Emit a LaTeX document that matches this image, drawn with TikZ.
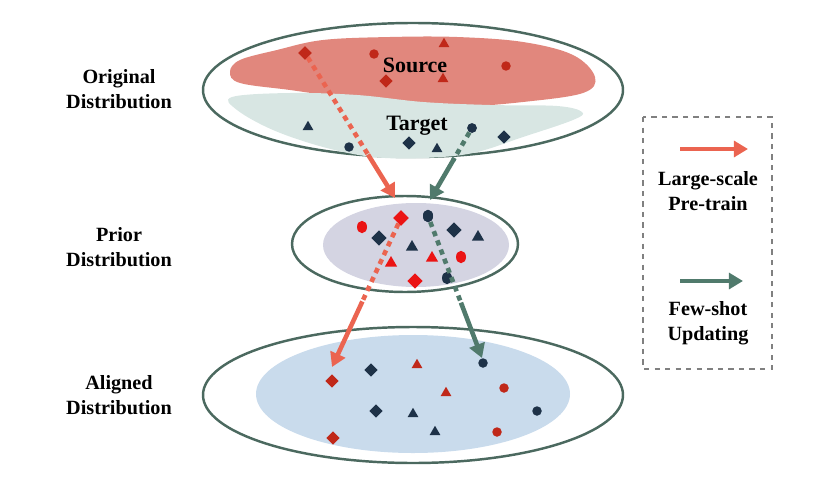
\documentclass[tikz,border=0pt]{standalone}
\usepackage{fontspec}
\setmainfont{Liberation Serif}
\usepackage{tikz}
\definecolor{srcfill}{RGB}{225,135,125}
\definecolor{tgtfill}{RGB}{216,230,227}
\definecolor{priorfill}{RGB}{212,212,226}
\definecolor{alignfill}{RGB}{201,219,236}
\definecolor{ringcol}{RGB}{75,105,95}
\definecolor{darkred}{RGB}{192,40,25}
\definecolor{brightred}{RGB}{235,20,20}
\definecolor{navy}{RGB}{30,50,72}
\definecolor{arrred}{RGB}{235,100,80}
\definecolor{arrgreen}{RGB}{80,122,108}
\usetikzlibrary{
  arrows.meta,
  positioning,
  shapes.geometric,
  calc
}

\begin{document}
\begin{tikzpicture}[x=0.02cm, y=-0.02cm,
  lbl/.style={font=\fontsize{11.5}{14}\selectfont\bfseries, align=center},
  ring/.style={draw=ringcol, line width=1.4pt},
  dia/.style={diamond, inner sep=0pt, minimum size=0.27cm},
  dot/.style={circle, inner sep=0pt, minimum size=0.19cm},
  tri/.style={regular polygon, regular polygon sides=3, inner sep=0pt, minimum size=0.25cm},
  bigdia/.style={dia, minimum size=0.31cm},
  bigtri/.style={tri, minimum size=0.28cm},
  oval/.style={ellipse, inner sep=0pt, minimum width=0.2cm, minimum height=0.25cm},
  dashred/.style={arrred, line width=2.6pt, dash pattern=on 3pt off 2.6pt},
  dashgreen/.style={arrgreen, line width=2.6pt, dash pattern=on 3pt off 2.6pt},
  arrowred/.style={arrred, line width=2.6pt, -{Triangle[length=8pt,width=9pt]}},
  arrowgreen/.style={arrgreen, line width=2.6pt, -{Triangle[length=8pt,width=9pt]}}]

  \useasboundingbox (0,0) rectangle (830,500);

  %% ===== ORIGINAL (top) =====
  \draw[ring] (413,90) ellipse (210 and 67);

  % Source blob
  \fill[srcfill] plot[smooth cycle, tension=0.6] coordinates {
    (230,72) (240,60) (277,50) (323,40) (390,37) (457,37) (523,42)
    (573,55) (595,77) (583,93) (523,102) (457,107) (407,105)
    (340,97) (290,90) (240,83)};

  % Target blob
  \fill[tgtfill] plot[smooth cycle, tension=0.6] coordinates {
    (232,97) (290,93) (357,95) (423,102) (490,105) (557,106) (582,112)
    (573,120) (523,137) (473,153) (423,158) (373,157) (323,147)
    (273,130) (237,110)};

  \node[lbl, font=\fontsize{12.5}{14}\selectfont\bfseries] (srclbl) at (415,65) {Source};
  \node[lbl, font=\fontsize{12.5}{14}\selectfont\bfseries] (tgtlbl) at (417,126) {Target};

  %% ===== PRIOR (middle) =====
  \draw[ring] (405,244) ellipse (113 and 48);
  \fill[priorfill] (416,245) ellipse (93 and 42);

  %% ===== ALIGNED (bottom) =====
  \draw[ring] (413,395) ellipse (210 and 68);
  \fill[alignfill] (413,394) ellipse (157 and 59);

  % Arrow ends
  \coordinate (redtip1) at (395,198);
  \coordinate (greentip1) at (430,200);
  \coordinate (redtip2) at (332,367);
  \coordinate (greentip2) at (482,358);

  % Markers
  \path
    (305,53) node[dia, fill=darkred] (sd1) {}
    (374,54) node[dot, fill=darkred] (sc1) {}
    (444,44) node[tri, fill=darkred] (st1) {}
    (506,66) node[dot, fill=darkred] (sc2) {}
    (386,81) node[dia, fill=darkred] (sd2) {}
    (443,79) node[tri, fill=darkred] (st2) {}
    (308,127) node[tri, fill=navy] (tt1) {}
    (349,147) node[dot, fill=navy] (tc1) {}
    (409,143) node[dia, fill=navy] (td1) {}
    (437,149) node[tri, fill=navy] (tt2) {}
    (472,128) node[dot, fill=navy] (tc2) {}
    (504,137) node[dia, fill=navy] (td2) {};

  \path
    (401,218) node[bigdia, fill=brightred] (pd1) {}
    (428,216) node[oval, fill=navy] (pc1) {}
    (362,227) node[oval, fill=brightred] (pe1) {}
    (379,238) node[bigdia, fill=navy] (pd2) {}
    (454,230) node[bigdia, fill=navy] (pd3) {}
    (478,237) node[bigtri, fill=navy] (pt1) {}
    (412,247) node[bigtri, fill=navy] (pt2) {}
    (391,263) node[bigtri, fill=brightred] (pt3) {}
    (432,258) node[bigtri, fill=brightred] (pt4) {}
    (461,257) node[oval, fill=brightred] (pe2) {}
    (447,278) node[oval, fill=navy] (pc2) {}
    (415,281) node[bigdia, fill=brightred] (pd4) {};

  % Arrows
  \draw[dashred] (sd1) -- ($(sd1)!0.72!(redtip1)$);
  \draw[arrowred] ($(sd1)!0.7!(redtip1)$) -- (redtip1);
  \draw[dashgreen] (tc2) -- ($(tc2)!0.45!(greentip1)$);
  \draw[arrowgreen] ($(tc2)!0.43!(greentip1)$) -- (greentip1);
  \draw[dashred] (pd1) -- ($(pd1)!0.58!(redtip2)$);
  \draw[arrowred] ($(pd1)!0.56!(redtip2)$) -- (redtip2);
  \draw[dashgreen] (pc1) -- ($(pc1)!0.63!(greentip2)$);
  \draw[arrowgreen] ($(pc1)!0.61!(greentip2)$) -- (greentip2);

  % Redraw start markers on top of the dashes
  \node[dia, fill=darkred] at (sd1) {};
  \node[dot, fill=navy] at (tc2) {};
  \node[bigdia, fill=brightred] at (pd1) {};
  \node[oval, fill=navy] at (pc1) {};

  \path
    (332,381) node[dia, fill=darkred] (ad1) {}
    (371,370) node[dia, fill=navy] (ad2) {}
    (417,365) node[tri, fill=darkred] (at1) {}
    (483,363) node[dot, fill=navy] (ac1) {}
    (446,393) node[tri, fill=darkred] (at2) {}
    (504,388) node[dot, fill=darkred] (ac2) {}
    (376,411) node[dia, fill=navy] (ad3) {}
    (413,414) node[tri, fill=navy] (at3) {}
    (537,411) node[dot, fill=navy] (ac3) {}
    (435,432) node[tri, fill=navy] (at4) {}
    (497,432) node[dot, fill=darkred] (ac4) {}
    (333,438) node[dia, fill=darkred] (ad4) {};

  %% ===== LEFT LABELS =====
  \node[lbl] (origlbl) at (119,89) {Original\\Distribution};
  \node[lbl] (priorlbl) at (119,247) {Prior\\Distribution};
  \node[lbl] (alignlbl) at (119,395) {Aligned\\Distribution};

  %% ===== LEGEND =====
  \draw[gray, line width=1pt, dashed] (643,117) rectangle (772,369);
  \coordinate (legr0) at (680,149);
  \coordinate (legr1) at (748,149);
  \coordinate (legg0) at (680,281);
  \coordinate (legg1) at (743,281);
  \draw[arrowred] (legr0) -- (legr1);
  \draw[arrowgreen] (legg0) -- (legg1);
  \node[lbl] (pretrainlbl) at (708,191) {Large-scale\\Pre-train};
  \node[lbl] (fewshotlbl) at (708,323) {Few-shot\\Updating};

\end{tikzpicture}
\end{document}
